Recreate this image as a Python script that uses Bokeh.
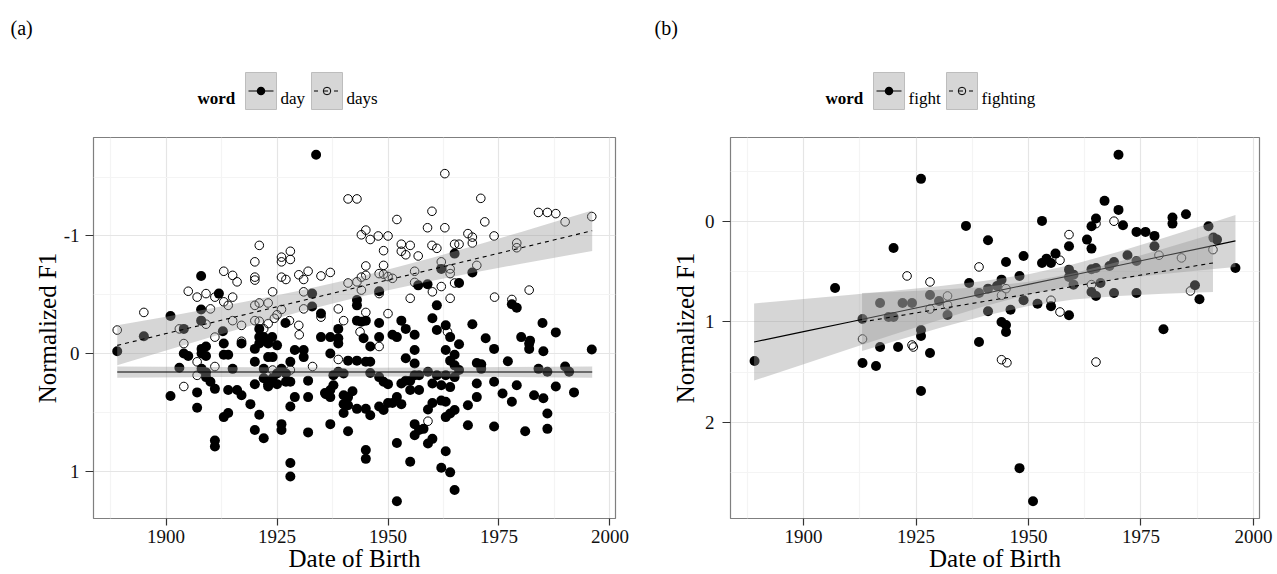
from bokeh.plotting import figure
from bokeh.models import Range1d, FixedTicker
from bokeh.layouts import row, column
from bokeh.embed import file_html
from bokeh.resources import INLINE
from bokeh.core.properties import value

SERIF = "Liberation Serif"
INK = "#000000"
BAND = "#999999"

# ---------------- (a) "day" vs "days" ----------------
day_year = [
    1933.8, 1907.9, 1901.0, 1911.9, 1907.9, 1895.0, 1907.9, 1904.0, 1912.8, 1921.0,
    1926.9, 1932.9, 1932.9, 1934.9, 1921.0, 1923.9, 1934.9, 1965.0, 1962.0, 1969.0,
    1966.0, 1956.8, 1958.9, 1948.0, 1943.0, 1943.0, 1961.0, 1977.9, 1979.0, 1943.0,
    1944.0, 1945.0, 1948.0, 1953.0, 1954.0, 1960.0, 1961.0, 1963.0, 1969.0, 1984.8,
    1987.8, 1938.8, 1956.0, 1951.0, 1952.0, 1972.0, 1980.0, 1982.0, 1889.0, 1903.0,
    1901.0, 1904.0, 1905.0, 1907.0, 1907.0, 1908.0, 1909.0, 1908.0, 1909.0, 1908.0,
    1909.0, 1910.0, 1909.0, 1911.0, 1911.0, 1911.0, 1913.0, 1913.0, 1914.0, 1914.0,
    1916.0, 1917.0, 1915.0, 1913.0, 1914.0, 1917.0, 1919.0, 1920.0, 1920.0, 1921.0,
    1922.0, 1920.0, 1920.0, 1921.0, 1922.0, 1923.0, 1925.0, 1923.0, 1924.0, 1922.0,
    1922.0, 1923.0, 1923.0, 1924.0, 1925.0, 1926.0, 1926.0, 1927.0, 1928.0, 1928.0,
    1928.0, 1928.0, 1929.0, 1929.0, 1931.0, 1931.0, 1932.0, 1932.0, 1932.0, 1936.0,
    1928.0, 1927.0, 1925.0, 1926.0, 1937.0, 1938.8, 1938.8, 1937.0, 1941.0, 1943.0,
    1945.0, 1946.0, 1946.0, 1948.0, 1949.0, 1950.0, 1937.7, 1938.8, 1940.0, 1937.7,
    1937.0, 1935.8, 1937.0, 1940.0, 1941.0, 1942.0, 1940.0, 1941.0, 1943.0, 1945.0,
    1946.0, 1940.0, 1937.0, 1941.0, 1948.0, 1949.0, 1950.0, 1951.0, 1952.0, 1953.0,
    1945.0, 1945.0, 1953.0, 1954.0, 1955.0, 1956.0, 1957.0, 1959.0, 1955.0, 1957.0,
    1954.0, 1956.0, 1956.0, 1948.0, 1946.0, 1944.5, 1952.0, 1952.0, 1955.0, 1956.0,
    1956.0, 1957.0, 1958.0, 1959.0, 1960.0, 1959.0, 1960.0, 1962.0, 1963.0, 1960.0,
    1962.0, 1964.0, 1961.0, 1963.0, 1963.0, 1964.0, 1965.0, 1963.0, 1962.0, 1964.0,
    1965.0, 1963.0, 1965.0, 1964.0, 1965.0, 1966.0, 1965.0, 1964.0, 1966.0, 1968.0,
    1968.0, 1970.0, 1970.0, 1970.0, 1971.0, 1971.0, 1973.9, 1973.9, 1973.9, 1975.8,
    1977.0, 1977.9, 1979.0, 1980.9, 1981.8, 1981.8, 1982.9, 1983.9, 1985.9, 1985.0,
    1985.0, 1985.9, 1985.9, 1987.8, 1989.9, 1990.8, 1991.9, 1995.9,
]
day_f1 = [
    -1.69, -0.66, -0.32, -0.51, -0.375, -0.148, -0.28, -0.21, -0.19, -0.21,
    -0.26, -0.51, -0.40, -0.34, -0.14, -0.14, -0.14, -0.85, -0.72, -0.69,
    -0.60, -0.58, -0.59, -0.53, -0.455, -0.41, -0.41, -0.42, -0.39, -0.28,
    -0.27, -0.28, -0.26, -0.28, -0.21, -0.30, -0.20, -0.24, -0.25, -0.26,
    -0.18, -0.21, -0.16, -0.16, -0.14, -0.13, -0.14, -0.11, -0.02, 0.12,
    0.36, 0.0, 0.02, 0.33, 0.46, -0.04, -0.06, 0.0, 0.02, 0.13,
    0.20, 0.24, 0.16, 0.30, 0.74, 0.79, -0.085, 0.01, 0.01, 0.31,
    0.31, 0.355, 0.13, 0.54, 0.505, -0.085, 0.43, 0.26, 0.65, 0.52,
    0.72, -0.04, 0.07, -0.085, -0.14, -0.085, -0.07, 0.03, 0.03, 0.13,
    0.21, 0.26, 0.28, 0.21, 0.26, 0.60, 0.65, 0.24, 0.24, 0.45,
    0.93, 1.045, 0.37, -0.03, -0.03, 0.03, 0.23, 0.37, 0.67, 0.345,
    0.07, 0.17, 0.17, 0.13, -0.14, -0.13, -0.085, 0.0, 0.06, 0.06,
    0.07, 0.07, 0.165, 0.20, 0.24, 0.26, 0.185, 0.155, 0.17, 0.27,
    0.31, 0.335, 0.37, 0.355, 0.37, 0.32, 0.43, 0.44, 0.47, 0.47,
    0.525, 0.505, 0.60, 0.66, 0.45, 0.48, 0.42, 0.42, 0.37, 0.43,
    0.82, 0.895, 0.255, 0.23, 0.23, 0.185, 0.185, 0.155, 0.31, 0.31,
    0.04, 0.085, -0.03, -0.14, -0.06, -0.13, 0.76, 1.255, 0.92, 0.60,
    0.695, 0.65, 0.64, 0.765, 0.725, 0.475, 0.42, 0.40, 0.41, 0.255,
    0.27, 0.285, 0.185, 0.185, 0.54, 0.51, 0.48, 0.83, 0.97, 1.01,
    1.16, -0.03, 0.01, 0.06, 0.10, 0.14, 0.20, -0.14, -0.08, 0.44,
    0.61, 0.255, 0.37, 0.08, 0.09, 0.13, -0.04, 0.24, 0.62, 0.34,
    0.065, 0.41, 0.27, 0.66, -0.085, -0.04, 0.355, 0.13, 0.155, -0.02,
    0.38, 0.51, 0.64, 0.28, 0.11, 0.155, 0.33, -0.034,
]

days_year = [
    1921.0, 1920.0, 1926.0, 1926.0, 1928.0, 1928.0, 1913.0, 1915.0, 1916.0, 1920.0,
    1920.0, 1926.0, 1927.0, 1929.9, 1931.0, 1932.0, 1934.9, 1905.0, 1907.0, 1909.0,
    1911.0, 1915.0, 1913.0, 1914.0, 1910.0, 1924.0, 1931.0, 1921.0, 1923.0, 1920.0,
    1931.0, 1925.0, 1926.0, 1924.4, 1920.0, 1921.0, 1923.0, 1922.0, 1927.8, 1915.0,
    1909.0, 1903.0, 1895.0, 1889.0, 1917.0, 1929.9, 1934.9, 1962.8, 1941.0, 1943.0,
    1970.9, 1952.0, 1959.9, 1958.9, 1962.8, 1971.8, 1945.0, 1944.0, 1946.0, 1947.8,
    1950.0, 1949.0, 1953.0, 1955.0, 1953.0, 1954.0, 1956.8, 1959.9, 1961.0, 1965.0,
    1966.0, 1968.0, 1969.0, 1969.0, 1973.9, 1979.0, 1979.0, 1983.9, 1985.9, 1987.8,
    1989.9, 1995.9, 1945.0, 1949.0, 1948.0, 1949.0, 1950.0, 1941.0, 1943.0, 1944.0,
    1945.0, 1937.0, 1951.0, 1956.0, 1956.0, 1962.0, 1964.0, 1964.0, 1965.0, 1970.0,
    1944.0, 1948.0, 1955.0, 1960.0, 1962.0, 1964.0, 1974.0, 1977.9, 1981.8, 1938.8,
    1945.0, 1950.0, 1940.0, 1904.0, 1904.0, 1907.0, 1907.0, 1911.0, 1911.0, 1917.0,
    1924.0, 1930.0, 1933.0, 1928.0, 1959.0, 1938.8, 1943.7, 1948.0, 1963.4,
]
days_f1 = [
    -0.92, -0.78, -0.82, -0.78, -0.87, -0.80, -0.70, -0.665, -0.61, -0.65,
    -0.625, -0.65, -0.63, -0.67, -0.63, -0.70, -0.66, -0.53, -0.48, -0.51,
    -0.48, -0.48, -0.44, -0.41, -0.38, -0.525, -0.525, -0.43, -0.43, -0.41,
    -0.38, -0.33, -0.375, -0.30, -0.28, -0.275, -0.255, -0.21, -0.28, -0.28,
    -0.25, -0.21, -0.35, -0.20, -0.24, -0.24, -0.31, -1.53, -1.315, -1.315,
    -1.32, -1.14, -1.21, -1.07, -1.07, -1.12, -1.05, -1.01, -0.97, -1.0,
    -1.0, -0.875, -0.93, -0.92, -0.87, -0.84, -0.83, -0.92, -0.895, -0.93,
    -0.93, -1.02, -0.99, -0.94, -1.0, -0.94, -0.90, -1.20, -1.20, -1.19,
    -1.12, -1.165, -0.745, -0.75, -0.68, -0.675, -0.655, -0.60, -0.61, -0.65,
    -0.665, -0.69, -0.64, -0.70, -0.605, -0.78, -0.72, -0.68, -0.60, -0.75,
    -0.54, -0.51, -0.47, -0.525, -0.57, -0.47, -0.48, -0.46, -0.54, -0.38,
    -0.35, -0.34, -0.28, -0.085, 0.28, 0.07, 0.185, 0.11, -0.14, -0.105,
    0.14, -0.16, 0.11, 0.14, 0.575, 0.05, -0.185, -0.06, -0.185,
]

# linear fits with 95% confidence bands
day_fit_year = [1889, 1920, 1945, 1970, 1996]
day_fit = [0.157, 0.157, 0.157, 0.157, 0.157]
day_lo = [0.109, 0.117, 0.120, 0.117, 0.109]
day_hi = [0.205, 0.197, 0.194, 0.197, 0.205]

days_fit_year = [1889, 1900, 1910, 1920, 1930, 1940, 1950, 1960, 1970, 1980, 1990, 1996]
days_fit = [-0.070, -0.170, -0.261, -0.352, -0.444, -0.535, -0.626, -0.717, -0.808, -0.899, -0.990, -1.045]
days_lo = [-0.240, -0.314, -0.384, -0.457, -0.535, -0.620, -0.714, -0.815, -0.923, -1.034, -1.148, -1.217]
days_hi = [0.100, -0.026, -0.138, -0.247, -0.353, -0.450, -0.538, -0.619, -0.693, -0.764, -0.832, -0.873]

# ---------------- (b) "fight" vs "fighting" ----------------
fight_year = [
    1926.1, 1920.0, 1907.0, 1936.1, 1936.8, 1928.1, 1917.0, 1922.0, 1924.1, 1930.1,
    1932.0, 1918.9, 1920.0, 1913.1, 1926.1, 1926.1, 1889.1, 1913.1, 1916.1, 1917.0,
    1921.0, 1926.1, 1928.1, 1970.0, 1966.9, 1970.0, 1965.0, 1964.0, 1971.0, 1953.0,
    1982.0, 1982.0, 1985.0, 1974.0, 1976.0, 1978.0, 1963.0, 1964.0, 1959.0, 1941.0,
    1948.9, 1945.0, 1953.0, 1954.0, 1955.0, 1956.0, 1944.0, 1990.0, 1991.9, 1991.1,
    1978.0, 1972.0, 1974.0, 1969.0, 1968.0, 1965.0, 1964.0, 1959.0, 1960.0, 1959.0,
    1960.0, 1948.0, 1966.0, 1964.0, 1965.0, 1969.0, 1974.0, 1987.0, 1988.0, 1996.0,
    1939.0, 1941.0, 1943.0, 1948.9, 1952.0, 1955.0, 1946.0, 1941.0, 1944.0, 1945.0,
    1945.0, 1959.0, 1980.0, 1939.0, 1948.0, 1951.0,
]
fight_f1 = [
    -0.43, 0.26, 0.66, 0.04, 0.61, 0.73, 0.81, 0.81, 0.81, 0.79,
    0.93, 0.95, 0.95, 0.97, 1.14, 1.08, 1.39, 1.41, 1.44, 1.25,
    1.25, 1.69, 1.31, -0.67, -0.21, -0.12, -0.033, 0.043, 0.033, -0.01,
    -0.043, 0.017, -0.077, 0.10, 0.10, 0.14, 0.177, 0.267, 0.243, 0.183,
    0.34, 0.40, 0.41, 0.367, 0.41, 0.317, 0.577, 0.043, 0.177, 0.157,
    0.243, 0.333, 0.39, 0.40, 0.44, 0.46, 0.473, 0.477, 0.527, 0.55,
    0.627, 0.54, 0.61, 0.70, 0.74, 0.71, 0.71, 0.633, 0.773, 0.46,
    0.71, 0.667, 0.64, 0.783, 0.817, 0.843, 0.877, 0.893, 1.0, 1.03,
    1.1, 0.933, 1.073, 1.2, 2.46, 2.79,
]

fighting_year = [
    1923.0, 1928.1, 1932.0, 1928.1, 1932.0, 1913.1, 1924.1, 1924.4, 1969.0, 1959.0,
    1939.0, 1957.0, 1979.0, 1984.0, 1991.0, 1945.0, 1944.0, 1964.0, 1986.0, 1955.0,
    1957.0, 1965.0, 1944.0, 1945.2, 1965.0,
]
fighting_f1 = [
    0.54, 0.60, 0.74, 0.87, 0.83, 1.17, 1.23, 1.25, -0.007, 0.127,
    0.45, 0.383, 0.333, 0.36, 0.277, 0.667, 0.733, 0.627, 0.69, 0.783,
    0.90, 0.017, 1.377, 1.407, 1.40,
]

fight_fit_year = [1889, 1900, 1910, 1920, 1930, 1940, 1950, 1960, 1970, 1980, 1990, 1996]
fight_fit = [1.200, 1.096, 1.002, 0.907, 0.813, 0.718, 0.624, 0.530, 0.435, 0.341, 0.247, 0.190]
fight_lo = [0.815, 0.771, 0.731, 0.688, 0.643, 0.590, 0.522, 0.424, 0.299, 0.162, 0.018, -0.070]
fight_hi = [1.585, 1.421, 1.273, 1.126, 0.983, 0.846, 0.726, 0.636, 0.571, 0.520, 0.476, 0.450]

fighting_fit_year = [1913, 1920, 1930, 1940, 1950, 1960, 1970, 1980, 1991]
fighting_fit = [1.000, 0.947, 0.871, 0.796, 0.720, 0.644, 0.569, 0.493, 0.410]
fighting_lo = [0.710, 0.700, 0.679, 0.651, 0.599, 0.513, 0.398, 0.269, 0.120]
fighting_hi = [1.290, 1.194, 1.063, 0.941, 0.841, 0.775, 0.740, 0.717, 0.700]

# axis ticks
x_ticks = [1900, 1925, 1950, 1975, 2000]
x_minor = [1887.5, 1912.5, 1937.5, 1962.5, 1987.5]
a_y_ticks = [-1, 0, 1]
a_y_minor = [-1.5, -0.5, 0.5]
b_y_ticks = [0, 1, 2]
b_y_minor = [-0.5, 0.5, 1.5, 2.5]

FRAME_H = 381
STRIP_H = 120


def padded(vals, frac=0.05):
    lo, hi = min(vals), max(vals)
    pad = (hi - lo) * frac
    return lo - pad, hi + pad


def scatter_panel(filled, hollow, fits, y_ticks, y_minor, frame_w,
                  border_left, border_right, y_label_standoff, y_title_standoff):
    x0, x1 = padded(filled[0] + hollow[0])
    y0, y1 = padded(filled[1] + hollow[1])
    p = figure(frame_width=frame_w, frame_height=FRAME_H,
               x_range=Range1d(x0, x1), y_range=Range1d(y1, y0),
               output_backend="svg", toolbar_location=None,
               min_border_left=border_left, min_border_right=border_right,
               min_border_top=17, min_border_bottom=56)
    p.background_fill_color = "white"
    p.border_fill_color = "white"
    p.outline_line_color = "#7f7f7f"
    p.outline_line_width = 1.2

    xt = FixedTicker(ticks=x_ticks, minor_ticks=x_minor)
    yt = FixedTicker(ticks=y_ticks, minor_ticks=y_minor)
    p.xaxis.ticker = xt
    p.yaxis.ticker = yt
    p.xgrid.ticker = xt
    p.ygrid.ticker = yt
    for g in (p.xgrid, p.ygrid):
        g.grid_line_color = "#e5e5e5"
        g.grid_line_width = 1.2
        g.minor_grid_line_color = "#f4f4f4"
        g.minor_grid_line_width = 1.2

    for ax in (p.xaxis, p.yaxis):
        ax.axis_line_color = None
        ax.major_tick_in = 0
        ax.minor_tick_in = 0
        ax.minor_tick_out = 0
        ax.major_tick_line_color = "#333333"
        ax.major_tick_line_width = 1.2
        ax.major_label_text_font = SERIF
        ax.major_label_text_font_size = "19px"
        ax.major_label_text_color = "#111111"
        ax.axis_label_text_font = SERIF
        ax.axis_label_text_font_size = "25px"
        ax.axis_label_text_font_style = "normal"
        ax.axis_label_text_color = "#000000"
    p.xaxis.major_tick_out = 7
    p.yaxis.major_tick_out = 8
    p.xaxis.major_label_standoff = 4
    p.xaxis.axis_label_standoff = -1
    p.yaxis.major_label_standoff = y_label_standoff
    p.yaxis.axis_label_standoff = y_title_standoff
    p.yaxis.major_label_overrides = {t: ("-%d" % abs(t) if t < 0 else "%d" % t) for t in y_ticks}
    p.xaxis.axis_label = "Date of Birth"
    p.yaxis.axis_label = "Normalized F1"

    p.scatter(hollow[0], hollow[1], marker="circle", size=8.6,
              fill_color=None, line_color=INK, line_width=1)
    p.scatter(filled[0], filled[1], marker="circle", size=10,
              fill_color=INK, line_color=None)

    for fx, fy, lo, hi, dash in fits:
        p.varea(x=fx, y1=lo, y2=hi, fill_color=BAND, fill_alpha=0.4)
        p.line(fx, fy, line_color=INK, line_width=1.1, line_dash=dash)
    return p


def legend_strip(width, tag, tag_x, word_x, keys):
    # strip above a panel, drawn in plain pixel positions from its top-left corner
    f = figure(frame_width=width, frame_height=STRIP_H,
               x_range=Range1d(0, width), y_range=Range1d(STRIP_H, 0),
               output_backend="svg", toolbar_location=None,
               x_axis_location=None, y_axis_location=None, min_border=0)
    f.outline_line_color = None
    f.grid.visible = False
    f.background_fill_color = "white"
    f.border_fill_color = "white"

    f.text(x=[tag_x], y=[27], text=[tag], text_font=value(SERIF), text_font_size="20px",
           text_baseline="alphabetic", text_align="left", text_color=INK)
    f.text(x=[word_x], y=[98], text=["word"], text_font=value(SERIF), text_font_size="17px",
           text_font_style="bold", text_baseline="alphabetic", text_align="left", text_color=INK)

    cy = 90.5
    for kx, label, hollow_key in keys:
        cx = kx + 15.5
        f.rect(x=[cx], y=[cy], width=31, height=37, fill_color="#d6d6d6",
               line_color="#bdbdbd", line_width=1)
        if hollow_key:
            f.line([kx + 2.5, kx + 28.5], [cy, cy], line_color=INK, line_width=1, line_dash="4 6")
            f.scatter([cx], [cy], marker="circle", size=7.5, fill_color=None,
                      line_color=INK, line_width=1)
        else:
            f.line([kx + 3, kx + 28], [cy, cy], line_color=INK, line_width=1.2)
            f.scatter([cx], [cy], marker="circle", size=8.5, fill_color=INK, line_color=None)
        f.text(x=[kx + 35], y=[98], text=[label], text_font=value(SERIF), text_font_size="17px",
               text_baseline="alphabetic", text_align="left", text_color=INK)
    return f


top_a = legend_strip(640, "(a)", 10, 197, [(245, "day", False), (311, "days", True)])
top_b = legend_strip(637, "(b)", 14, 185, [(233, "fight", False), (306, "fighting", True)])

panel_a = scatter_panel(
    (day_year, day_f1), (days_year, days_f1),
    [(day_fit_year, day_fit, day_lo, day_hi, "solid"),
     (days_fit_year, days_fit, days_lo, days_hi, "4 4")],
    a_y_ticks, a_y_minor, 522, 93, 25, 6, 0)

panel_b = scatter_panel(
    (fight_year, fight_f1), (fighting_year, fighting_f1),
    [(fight_fit_year, fight_fit, fight_lo, fight_hi, "solid"),
     (fighting_fit_year, fighting_fit, fighting_lo, fighting_hi, "4 4")],
    b_y_ticks, b_y_minor, 529, 90, 18, 8, 3)

layout = column(row(top_a, top_b), row(panel_a, panel_b))

open("out.html", "w").write(file_html(layout, INLINE))
